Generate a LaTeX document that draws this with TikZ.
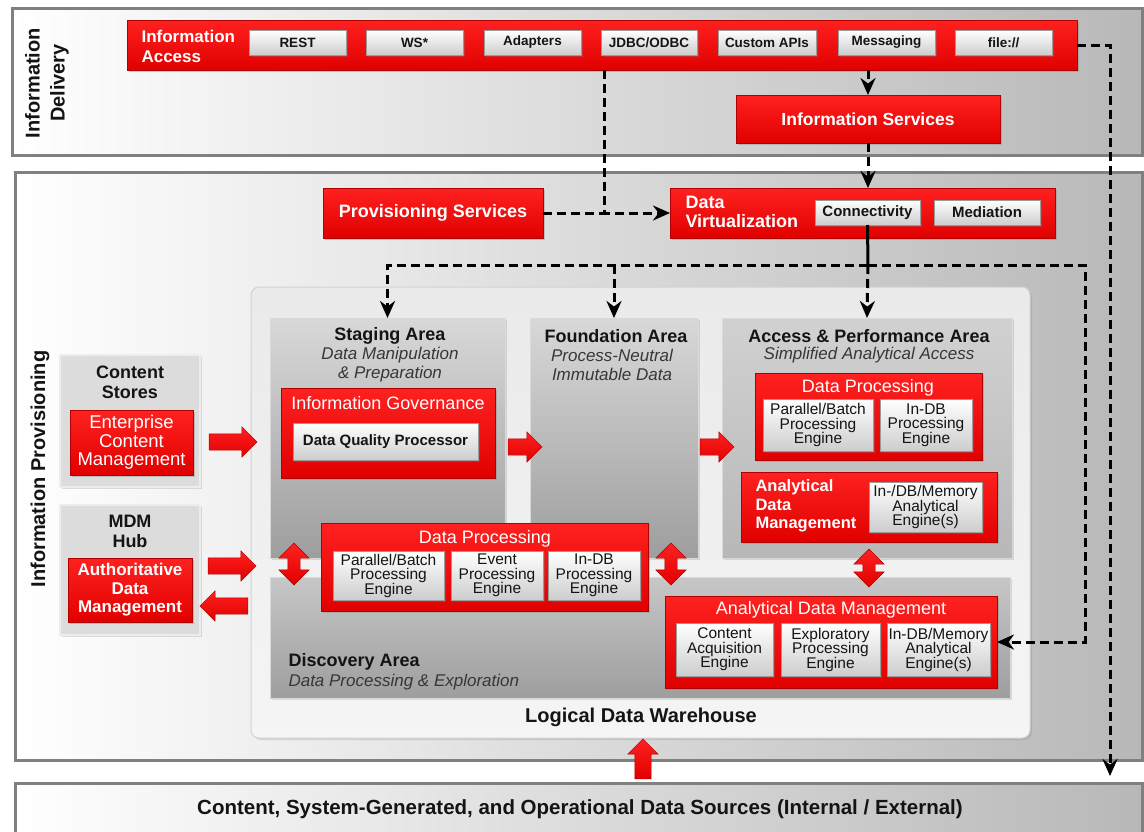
\documentclass[tikz,border=0pt]{standalone}
\usepackage{fontspec}
\setmainfont{Liberation Sans}
\setsansfont{Liberation Sans}
\usepackage{tikz}
\usetikzlibrary{arrows.meta,shapes.arrows,shadows}

\definecolor{oraRedTop}{HTML}{FF2020}
\definecolor{oraRed}{HTML}{E00000}
\definecolor{oraRedEdge}{HTML}{B00000}
\definecolor{btnGray}{HTML}{CDCDCD}
\definecolor{btnEdge}{HTML}{9A9A9A}
\definecolor{panelEdge}{HTML}{808080}
\definecolor{panelGray}{HTML}{B8B8B8}
\definecolor{ldwFill}{HTML}{EAEAEA}
\definecolor{ldwEdge}{HTML}{D2D2D2}
\definecolor{areaTop}{HTML}{D8D8D8}
\definecolor{areaBot}{HTML}{9E9E9E}
\definecolor{sideFill}{HTML}{DCDCDC}
\definecolor{txt}{HTML}{141414}

\newcommand{\ttlfont}{\fontsize{18}{20}\selectfont\bfseries}
\newcommand{\subfont}{\fontsize{17}{19}\selectfont\itshape}
\newcommand{\btnfont}{\fontsize{13.5}{15}\selectfont\bfseries}
\newcommand{\engfont}{\fontsize{15.5}{14.5}\selectfont}
\newcommand{\redfont}{\fontsize{18}{20}\selectfont}

\begin{document}
\begin{tikzpicture}[x=1pt,y=-1pt,
    box/.style={anchor=north west, inner sep=0pt, outer sep=0pt},
    panel/.style={box, draw=panelEdge, line width=3pt, left color=white, right color=panelGray},
    redbox/.style={box, draw=oraRedEdge, line width=0.6pt, top color=oraRedTop, bottom color=oraRed,
        drop shadow={shadow xshift=2pt, shadow yshift=-2pt, opacity=0.35}},
    btn/.style={box, draw=btnEdge, line width=0.5pt, top color=white, bottom color=btnGray, text=txt,
        drop shadow={shadow xshift=1.5pt, shadow yshift=-1.5pt, opacity=0.3}},
    engine/.style={btn, font=\engfont, align=center},
    area/.style={box, draw=white!85!black, line width=1pt, top color=areaTop, bottom color=areaBot,
        drop shadow={shadow xshift=2pt, shadow yshift=-2pt, opacity=0.25}},
    sidebox/.style={box, draw=white!93!black, line width=2pt, fill=sideFill,
        drop shadow={shadow xshift=2pt, shadow yshift=-2pt, opacity=0.25}},
    ttl/.style={font=\ttlfont, text=txt, align=center},
    sub/.style={font=\subfont, text=txt!85!white, align=center},
    whitelbl/.style={text=white, align=left},
    flow/.style={line width=3pt, dash pattern=on 9pt off 5pt, -{Stealth[length=17pt,width=15pt]}},
    dashline/.style={line width=3pt, dash pattern=on 9pt off 5pt},
    blockarrow/.style={single arrow, inner sep=8pt, single arrow head extend=7pt,
        top color=oraRedTop, bottom color=oraRed, draw=oraRedEdge, line width=0.4pt},
    twowayarrow/.style={double arrow, inner sep=6pt, double arrow head extend=9pt,
        shape border rotate=90, top color=oraRedTop, bottom color=oraRed, draw=oraRedEdge, line width=0.4pt}
]
\useasboundingbox (0,0) rectangle (1144,831);

% the three bands
\node[panel, minimum width=1130, minimum height=147] (delivery)
    at (12,8) {};
\node[panel, minimum width=1127, minimum height=588] (provisioning)
    at (15,172) {};
\node[panel, minimum width=1127, minimum height=80] (sources)
    at (15,783) {};

\node[rotate=90, font=\fontsize{20}{25}\selectfont\bfseries, text=txt, align=center] (deliverylbl)
    at (47,83) {Information\\Delivery};
\node[rotate=90, font=\fontsize{20}{25}\selectfont\bfseries, text=txt] (provisioninglbl)
    at (40,469) {Information Provisioning};
\node[font=\fontsize{20.5}{22}\selectfont\bfseries, text=txt] (sourceslbl)
    at (580,809) {Content, System-Generated, and Operational Data Sources (Internal / External)};

% information access
\node[redbox, minimum width=950, minimum height=50] (infoaccess)
    at (127,20) {};
\node[whitelbl, anchor=west, font=\fontsize{17}{20}\selectfont\bfseries] (infoaccesslbl)
    at (138,46) {Information\\Access};
\node[btn, font=\btnfont, minimum width=97, minimum height=25] (rest)
    at (249,30) {REST};
\node[btn, font=\btnfont, minimum width=97, minimum height=25] (ws)
    at (366,30) {WS*};
\node[btn, font=\btnfont, minimum width=97, minimum height=25] (adapters)
    at (484,30) {Adapters};
\node[btn, font=\btnfont, minimum width=96, minimum height=25] (jdbc)
    at (601,30) {JDBC/ODBC};
\node[btn, font=\btnfont, minimum width=98, minimum height=25] (customapi)
    at (718,30) {Custom APIs};
\node[btn, font=\btnfont, minimum width=97, minimum height=25] (messaging)
    at (838,30) {Messaging};
\node[btn, font=\btnfont, minimum width=97, minimum height=25] (file)
    at (955,30) {file://};

\node[redbox, minimum width=264, minimum height=48, font=\fontsize{17.5}{20}\selectfont\bfseries, text=white] (infoservices)
    at (736,95) {Information Services};

% provisioning and virtualization
\node[redbox, minimum width=220, minimum height=50, font=\fontsize{18}{20}\selectfont\bfseries, text=white] (provservices)
    at (323,188) {Provisioning Services};
\node[redbox, minimum width=385, minimum height=50] (datavirt)
    at (670,188) {};
\node[whitelbl, anchor=west, font=\fontsize{18}{19}\selectfont\bfseries] (datavirtlbl)
    at (682,212) {Data\\Virtualization};
\node[btn, font=\fontsize{15}{17}\selectfont\bfseries, minimum width=105, minimum height=25] (connectivity)
    at (815,200) {Connectivity};
\node[btn, font=\fontsize{15}{17}\selectfont\bfseries, minimum width=106, minimum height=25] (mediation)
    at (934,200) {Mediation};

% logical data warehouse
\node[box, rounded corners=8pt, draw=ldwEdge, line width=1pt, top color=ldwFill, bottom color=white!96!black,
    drop shadow={shadow xshift=2pt, shadow yshift=-2pt, opacity=0.25},
    minimum width=779, minimum height=451] (ldw)
    at (251,287) {};
\node[font=\fontsize{20}{22}\selectfont\bfseries, text=txt] (ldwlbl)
    at (641,717) {Logical Data Warehouse};

\node[area, minimum width=235, minimum height=240] (staging)
    at (270,318) {};
\node[area, minimum width=168, minimum height=240] (foundation)
    at (530,318) {};
\node[area, top color=white!82!black, bottom color=white!72!black, minimum width=290, minimum height=240] (access)
    at (722,318) {};
\node[area, top color=white!78!black, bottom color=white!62!black, minimum width=740, minimum height=121] (discovery)
    at (270,577) {};

\node[ttl] (stagingttl)
    at (390,336) {Staging Area};
\node[sub] (stagingsub)
    at (390,365) {Data Manipulation\\\& Preparation};
\node[ttl] (foundationttl)
    at (616,336) {Foundation Area};
\node[sub] (foundationsub)
    at (612,365) {Process-Neutral\\Immutable Data};
\node[ttl] (accessttl)
    at (869,336) {Access \& Performance Area};
\node[sub] (accesssub)
    at (869,355) {Simplified Analytical Access};
\node[ttl, anchor=west] (discoveryttl)
    at (285,662) {Discovery Area};
\node[sub, anchor=west] (discoverysub)
    at (285,682) {Data Processing \& Exploration};

% staging content
\node[redbox, minimum width=214, minimum height=90] (governance)
    at (281,388) {};
\node[font=\redfont, text=white] (governancelbl)
    at (388,403) {Information Governance};
\node[btn, font=\fontsize{15}{17}\selectfont\bfseries, minimum width=185, minimum height=37] (dataquality)
    at (293,423) {Data Quality Processor};

% access content
\node[redbox, minimum width=227, minimum height=87] (accessproc)
    at (755,373) {};
\node[font=\redfont, text=white] (accessproclbl)
    at (868,388) {Data Processing};
\node[engine, minimum width=110, minimum height=52] (accessbatch)
    at (763,399) {Parallel/Batch\\Processing\\Engine};
\node[engine, minimum width=92, minimum height=52] (accessindb)
    at (880,399) {In-DB\\Processing\\Engine};

\node[redbox, minimum width=256, minimum height=70] (accessadm)
    at (741,472) {};
\node[whitelbl, anchor=west, font=\fontsize{16.5}{18.5}\selectfont\bfseries] (accessadmlbl)
    at (752,506) {Analytical\\Data\\Management};
\node[engine, minimum width=113, minimum height=50] (accessmemory)
    at (869,482) {In-/DB/Memory\\Analytical\\Engine(s)};

% discovery content
\node[redbox, minimum width=327, minimum height=88] (discproc)
    at (321,523) {};
\node[font=\redfont, text=white] (discproclbl)
    at (485,539) {Data Processing};
\node[engine, minimum width=111, minimum height=49] (discbatch)
    at (333,551) {Parallel/Batch\\Processing\\Engine};
\node[engine, minimum width=92, minimum height=49] (discevent)
    at (451,551) {Event\\Processing\\Engine};
\node[engine, minimum width=92, minimum height=49] (discindb)
    at (548,551) {In-DB\\Processing\\Engine};

\node[redbox, minimum width=332, minimum height=92] (discadm)
    at (665,596) {};
\node[font=\redfont, text=white] (discadmlbl)
    at (831,610) {Analytical Data Management};
\node[engine, minimum width=97, minimum height=53] (disccontent)
    at (676,623) {Content\\Acquisition\\Engine};
\node[engine, minimum width=99, minimum height=53] (discexplore)
    at (781,623) {Exploratory\\Processing\\Engine};
\node[engine, minimum width=103, minimum height=53] (discmemory)
    at (887,623) {In-DB/Memory\\Analytical\\Engine(s)};

% side sources
\node[sidebox, minimum width=140, minimum height=132] (contentstores)
    at (60,355) {};
\node[ttl] (contentstoreslbl)
    at (130,382) {Content\\Stores};
\node[redbox, minimum width=123, minimum height=65, font=\fontsize{18.5}{18.5}\selectfont, text=white, align=center] (ecm)
    at (70,410) {Enterprise\\Content\\Management};
\node[sidebox, minimum width=140, minimum height=130] (mdmhub)
    at (60,505) {};
\node[ttl] (mdmhublbl)
    at (130,531) {MDM\\Hub};
\node[redbox, minimum width=124, minimum height=64, font=\fontsize{17}{18.5}\selectfont\bfseries, text=white, align=center] (authdata)
    at (68,558) {Authoritative\\Data\\Management};

% red block arrows
\node[blockarrow, minimum height=48] (ecmtostaging)
    at (229,442) {};
\node[blockarrow, minimum height=34] (stagingtofound)
    at (521,447) {};
\node[blockarrow, minimum height=34] (foundtoaccess)
    at (713,447) {};
\node[blockarrow, minimum height=48] (mdmtoldw)
    at (228,566) {};
\node[blockarrow, shape border rotate=180, minimum height=48] (ldwtomdm)
    at (228,606) {};
\node[twowayarrow, minimum height=42] (stagingdisc)
    at (294,564) {};
\node[twowayarrow, minimum height=42] (founddisc)
    at (671,564) {};
\node[twowayarrow, minimum height=38] (accessdisc)
    at (869,568) {};
\node[blockarrow, shape border rotate=90, minimum height=40] (sourcestoldw)
    at (643,763) {};

% dashed flows
\coordinate (jdbctap) at ([xshift=3pt]jdbc.west |- infoaccess.south);
\coordinate (fileend) at (1110,776);
\coordinate (bus) at (868,265);
\coordinate (busend) at (1085,265);

\draw[flow] (infoaccess.south -| infoservices.north) -- (infoservices.north);
\draw[flow] (infoservices.south) -- (infoservices.south |- datavirt.north);
\draw[dashline] (provservices.east) -- (jdbctap |- provservices.east);
\draw[flow] (jdbctap) |- (datavirt.west);
\draw[flow] (infoaccess.east) -| (fileend);
\draw[line width=3pt] (connectivity.south) -- (bus);
\draw[flow] (bus) -- (access.north);
\draw[flow] (bus) -| (staging.north);
\draw[flow] (foundation.north |- bus) -- (foundation.north);
\draw[flow] (bus) -- (busend) |- (discadm.east);
\end{tikzpicture}
\end{document}
